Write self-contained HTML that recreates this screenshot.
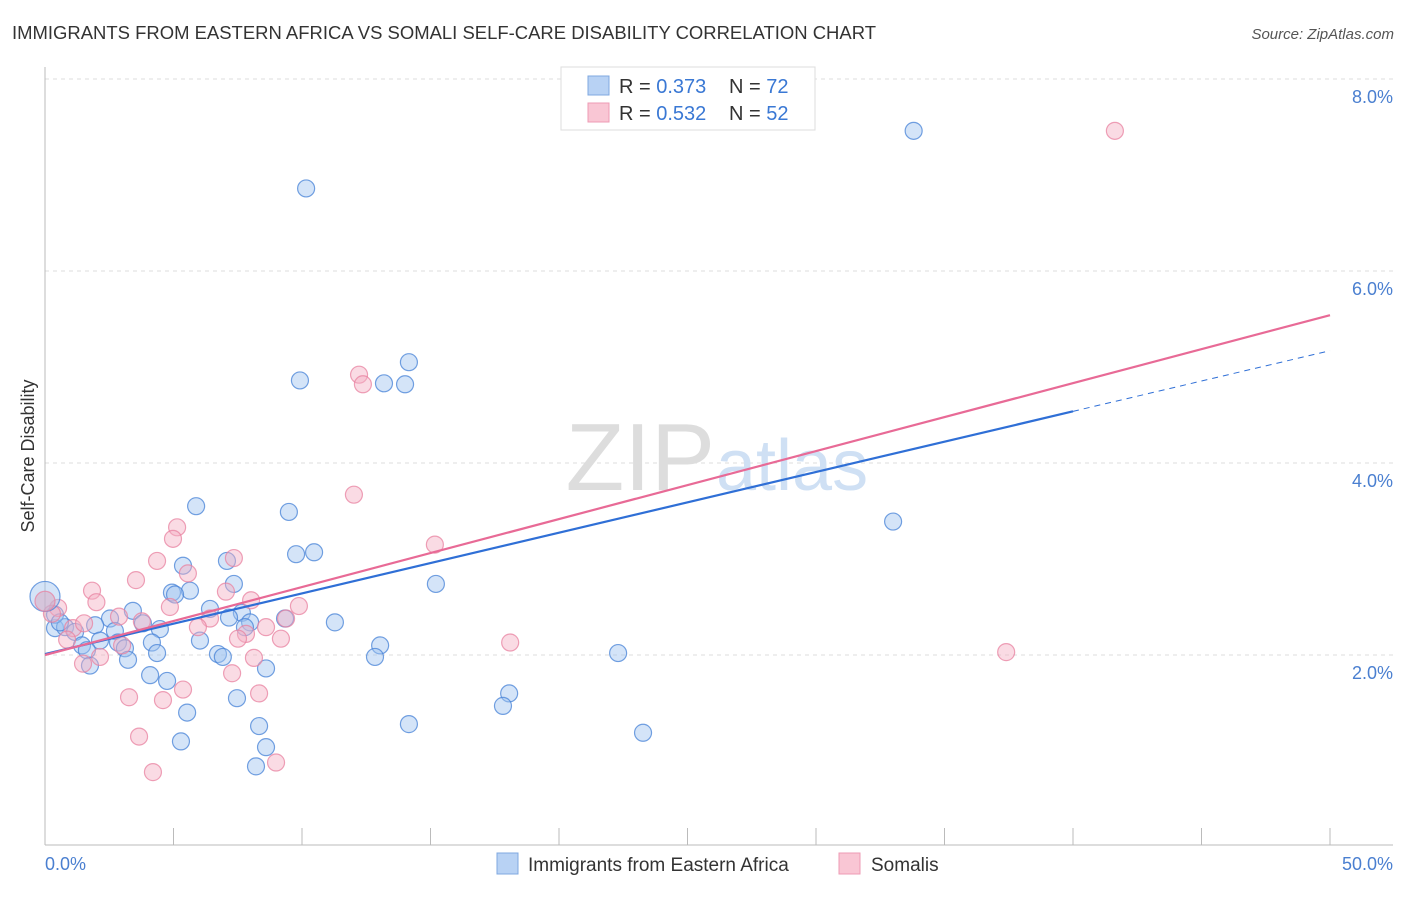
<!DOCTYPE html>
<html><head><meta charset="utf-8"><style>
body{margin:0;background:#fff;font-family:"Liberation Sans",sans-serif;}
svg text{font-family:"Liberation Sans",sans-serif;}
</style></head><body>
<svg id="chart" width="1406" height="892" xmlns="http://www.w3.org/2000/svg">
<text x="12" y="39" font-size="18" fill="#333" textLength="864" lengthAdjust="spacingAndGlyphs">IMMIGRANTS FROM EASTERN AFRICA VS SOMALI SELF-CARE DISABILITY CORRELATION CHART</text>
<text x="1394" y="39" font-size="15" fill="#555" text-anchor="end" font-style="italic">Source: ZipAtlas.com</text>
<g id="grid"></g>
<text x="715" y="490" font-size="96" fill="#ddd" text-anchor="end" font-family="Liberation Serif">ZIP</text>
<text x="716" y="490" font-size="72" fill="#cfe0f4">atlas</text>
<line x1="45" y1="67" x2="45" y2="845" stroke="#bbb"/>
<line x1="45" y1="845" x2="1393" y2="845" stroke="#bbb"/>
<g id="ticks"></g>
<g id="pts"></g>
<g id="lines"></g>
<text x="34" y="456" font-size="18" fill="#333" text-anchor="middle" transform="rotate(-90 34 456)">Self-Care Disability</text>
<text x="45" y="870" font-size="18" fill="#4a7fd0">0.0%</text>
<text x="1393" y="870" font-size="18" fill="#4a7fd0" text-anchor="end">50.0%</text>
<g>
<rect x="561" y="67" width="254" height="63" fill="#fff" stroke="#ddd"/>
<rect x="588" y="76" width="21" height="19" fill="#b8d2f4" stroke="#7fa8e0"/>
<rect x="588" y="103" width="21" height="19" fill="#f9c6d4" stroke="#ee9bb4"/>
<text x="619" y="93" font-size="20" fill="#333">R = <tspan fill="#3a78d4">0.373</tspan></text>
<text x="729" y="93" font-size="20" fill="#333">N = <tspan fill="#3a78d4">72</tspan></text>
<text x="619" y="120" font-size="20" fill="#333">R = <tspan fill="#3a78d4">0.532</tspan></text>
<text x="729" y="120" font-size="20" fill="#333">N = <tspan fill="#3a78d4">52</tspan></text>
</g>
<g>
<rect x="497" y="853" width="21" height="21" fill="#b8d2f4" stroke="#7fa8e0"/>
<text x="528" y="871" font-size="19" fill="#333">Immigrants from Eastern Africa</text>
<rect x="839" y="853" width="21" height="21" fill="#f9c6d4" stroke="#ee9bb4"/>
<text x="871" y="871" font-size="19" fill="#333">Somalis</text>
</g>
</svg>
<script>
const yTicks=[2,4,6,8];
const blueX=[33.8,10.16,9.92,13.19,14.01,14.16,33.0,5.88,9.49,9.77,10.47,15.21,5.37,7.08,7.35,5.64,4.94,5.06,6.42,3.42,7.66,9.34,11.28,7.98,7.16,2.53,3.81,4.47,7.78,0.39,0.78,1.95,2.72,1.17,6.03,4.16,2.84,2.14,1.44,13.04,3.11,12.84,6.73,6.92,1.63,4.36,3.23,1.75,22.3,8.6,4.09,4.75,7.47,18.06,17.82,5.53,8.33,14.16,23.27,5.29,8.6,8.21,0.39,0.58];
const blueY=[7.46,6.86,4.86,4.83,4.82,5.05,3.39,3.55,3.49,3.05,3.07,2.74,2.93,2.98,2.74,2.67,2.65,2.63,2.48,2.46,2.44,2.38,2.34,2.34,2.39,2.38,2.33,2.27,2.29,2.28,2.29,2.31,2.25,2.24,2.15,2.13,2.13,2.15,2.10,2.10,2.07,1.98,2.01,1.98,2.05,2.02,1.95,1.89,2.02,1.86,1.79,1.73,1.55,1.60,1.47,1.40,1.26,1.28,1.19,1.10,1.04,0.84,2.42,2.34];
const pinkX=[41.63,12.22,12.37,12.02,15.17,5.14,4.98,4.36,7.35,5.56,3.54,1.83,7.04,2.0,8.02,4.86,9.88,0.51,2.88,6.42,9.38,8.6,3.77,5.95,1.09,7.82,1.52,7.51,9.18,18.1,0.86,3.0,2.14,37.4,8.13,1.48,7.28,5.37,8.33,3.27,4.59,3.66,8.99,4.2,0.27];
const pinkY=[7.46,4.92,4.82,3.67,3.15,3.33,3.21,2.98,3.01,2.85,2.78,2.67,2.66,2.55,2.57,2.50,2.51,2.49,2.40,2.38,2.38,2.29,2.35,2.29,2.28,2.22,2.33,2.17,2.17,2.13,2.16,2.10,1.98,2.03,1.97,1.91,1.81,1.64,1.60,1.56,1.53,1.15,0.88,0.78,2.43];
const bigX=[0,0]; const bigY=[2.61,2.56];
const blueLine=[2.01,5.17], blueSolidEnd=40;
const pinkLine=[2.0,5.54];
const sx=v=>45+v/50*1285, sy=v=>847-v*96;
const NS="http://www.w3.org/2000/svg";
function mk(t,a,p){const e=document.createElementNS(NS,t);for(const k in a)e.setAttribute(k,a[k]);p.appendChild(e);return e;}
const grid=document.getElementById('grid');
yTicks.forEach(t=>{
 const l=mk('line',{x1:45,x2:1393,y1:sy(t),y2:sy(t),stroke:'#ddd','stroke-dasharray':'4,4'},grid);
 
 
 const tx=mk('text',{x:1393,y:sy(t)+24,'font-size':18,fill:'#4a7fd0','text-anchor':'end'},grid);
 tx.textContent=t.toFixed(1)+'%';
 
 
});
const ticks=document.getElementById('ticks');
for(let i=1;i<=10;i++){const l=mk('line',{x1:sx(i*5),x2:sx(i*5),y1:828,y2:845,stroke:'#bbb'},ticks);
 
 }
const pts=document.getElementById('pts');
blueX.forEach((x,i)=>{const c=mk('circle',{cx:sx(x),cy:sy(blueY[i]),r:8.5,fill:'rgba(160,195,240,0.45)',stroke:'rgba(70,130,215,0.75)','stroke-width':1.2},pts);
 
 });
pinkX.forEach((x,i)=>{const c=mk('circle',{cx:sx(x),cy:sy(pinkY[i]),r:8.5,fill:'rgba(245,175,195,0.45)',stroke:'rgba(232,130,160,0.75)','stroke-width':1.2},pts);
 
 });
bigX.forEach((x,i)=>{const c=mk('circle',{cx:sx(x),cy:sy(bigY[i]),r:i==0?15:10,fill:i==0?'rgba(160,195,240,0.45)':'rgba(215,165,190,0.5)',stroke:i==0?'rgba(70,130,215,0.75)':'rgba(232,130,160,0.75)','stroke-width':1.2},pts);
 
 });
const lines=document.getElementById('lines');
const by=x=>blueLine[0]+(blueLine[1]-blueLine[0])*x/50;
let l=mk('line',{x1:sx(0),y1:sy(by(0)),x2:sx(blueSolidEnd),y2:sy(by(blueSolidEnd)),stroke:'#2f6fd6','stroke-width':2.2},lines);


l=mk('line',{x1:sx(blueSolidEnd),y1:sy(by(blueSolidEnd)),x2:sx(50),y2:sy(by(50)),stroke:'#2f6fd6','stroke-width':1,'stroke-dasharray':'6,5'},lines);


l=mk('line',{x1:sx(0),y1:sy(pinkLine[0]),x2:sx(50),y2:sy(pinkLine[1]),stroke:'#e86a96','stroke-width':2.2},lines);


</script>
</body></html>
